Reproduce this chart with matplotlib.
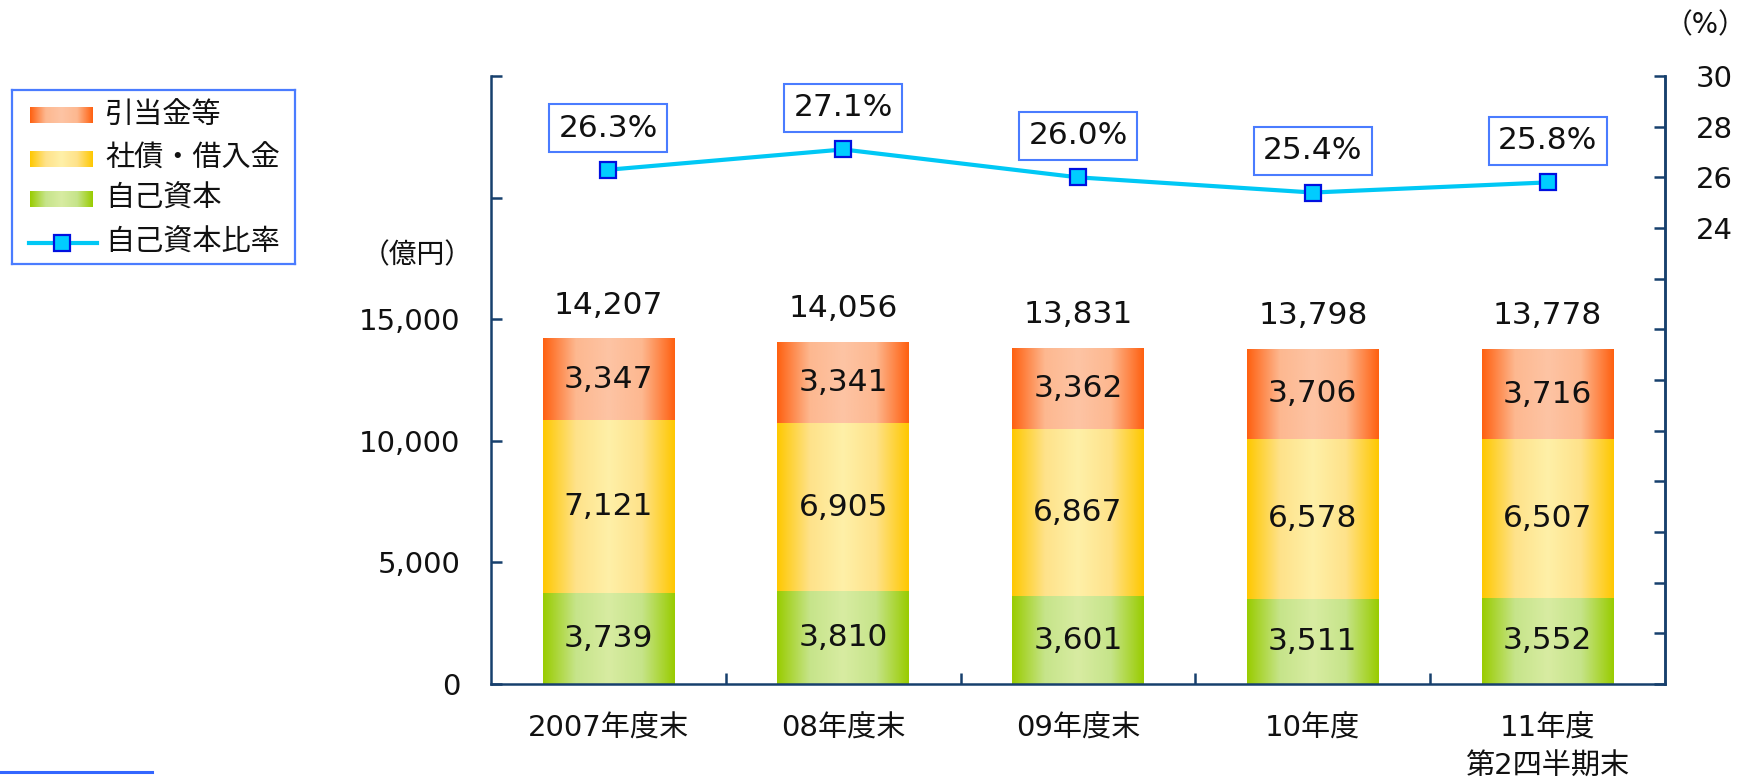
import numpy as np
import matplotlib
matplotlib.use("Agg")
import matplotlib.pyplot as plt
from matplotlib.colors import LinearSegmentedColormap
from matplotlib.lines import Line2D

plt.rcParams['font.family'] = ['DejaVu Sans', 'Noto Sans CJK JP']

categories = ["2007年度末", "08年度末", "09年度末", "10年度", "11年度\n第2四半期末"]
equity = [3739, 3810, 3601, 3511, 3552]
bonds_loans = [7121, 6905, 6867, 6578, 6507]
reserves = [3347, 3341, 3362, 3706, 3716]
totals = [14207, 14056, 13831, 13798, 13778]
equity_ratio = [26.3, 27.1, 26.0, 25.4, 25.8]
series_names = ["引当金等", "社債・借入金", "自己資本", "自己資本比率"]

left_ticks = [0, 5000, 10000, 15000, 20000, 25000]
left_labels = ["0", "5,000", "10,000", "15,000", "", ""]
right_ticks = list(range(6, 31, 2))
right_labels = [str(t) if t >= 24 else "" for t in right_ticks]

AX_COL = "#17406d"
TXT = "#111111"
grad_specs = {
    "reserves": ["#ff6010", "#fdb890", "#fdc4a4", "#fdb890", "#ff6010"],
    "bonds": ["#ffc800", "#fee28a", "#fff0a8", "#fee28a", "#ffc800"],
    "equity": ["#99cc00", "#c6e48a", "#d8eca2", "#c6e48a", "#99cc00"],
}
cmaps = {k: LinearSegmentedColormap.from_list(k, v) for k, v in grad_specs.items()}
grad = np.linspace(0, 1, 256).reshape(1, -1)

fig = plt.figure(figsize=(17.56, 7.80), dpi=100)
ax = fig.add_axes([491/1756, 1-684/780, (1665-491)/1756, (684-76)/780])

x = np.arange(len(categories))
w = 0.56
stack = [("equity", equity), ("bonds", bonds_loans), ("reserves", reserves)]
bottom = np.zeros(len(categories))
for key, vals in stack:
    bars = ax.bar(x, vals, w, bottom=bottom, facecolor="none", edgecolor="none", zorder=2)
    for b, v, bt in zip(bars, vals, bottom):
        x0, y0 = b.get_x(), b.get_y()
        im = ax.imshow(grad, extent=[x0, x0 + b.get_width(), y0, y0 + b.get_height()],
                       aspect="auto", cmap=cmaps[key], zorder=1, interpolation="bilinear")
        im.set_clip_path(b)
        ax.text(b.get_x() + b.get_width()/2, bt + v/2, f"{v:,}", ha="center", va="center",
                fontsize=22.5, color=TXT, zorder=3)
    bottom = bottom + np.array(vals)

for xi, t in zip(x, totals):
    ax.annotate(f"{t:,}", (xi, t), xytext=(0, 24), textcoords="offset points",
                ha="center", va="center", fontsize=22.5, color=TXT)

ax.set_xlim(-0.5, len(categories) - 0.5)
ax.set_ylim(0, 25000)
ax.set_yticks(left_ticks)
ax.set_yticklabels(left_labels)
ax.set_xticks(x)
ax.set_xticklabels(categories, fontsize=21, linespacing=1.45)
ax.set_xticks(np.arange(0.5, len(categories) - 0.5, 1), minor=True)
ax.tick_params(axis="x", which="major", length=0, pad=22, colors=TXT)
ax.tick_params(axis="x", which="minor", length=8, width=1.8, direction="in", color=AX_COL)
ax.tick_params(axis="y", length=8, width=1.8, direction="in", color=AX_COL,
               labelsize=21, labelcolor=TXT, pad=22)
ax.spines["top"].set_visible(False)
for s in ["left", "bottom", "right"]:
    ax.spines[s].set_color(AX_COL)
    ax.spines[s].set_linewidth(1.8)

ax2 = ax.twinx()
ax2.set_ylim(6, 30)
ax2.set_yticks(right_ticks)
ax2.set_yticklabels(right_labels)
ax2.tick_params(axis="y", length=8, width=1.8, direction="in", color=AX_COL,
                labelsize=21, labelcolor=TXT, pad=22)
ax2.spines["top"].set_visible(False)
ax2.spines["right"].set_color(AX_COL)
ax2.spines["right"].set_linewidth(1.8)
ax2.spines["left"].set_visible(False)
ax2.spines["bottom"].set_visible(False)
ax2.plot(x, equity_ratio, color="#00c8f5", lw=3, marker="s", markersize=11,
         markerfacecolor="#00ccff", markeredgecolor="#0010e0", markeredgewidth=1.6, zorder=5)
for xi, r in zip(x, equity_ratio):
    ax2.annotate(f"{r:.1f}%", (xi, r), xytext=(0, 30), textcoords="offset points",
                 ha="center", va="center", fontsize=22.5, color=TXT,
                 bbox=dict(boxstyle="square,pad=0.3", fc="white", ec="#4a7cff", lw=1.5))

fig.text(417/1756, 1-255/780, "（億円）", ha="center", va="center", fontsize=20, color=TXT)
fig.text(1706/1756, 1-25/780, "（%）", ha="center", va="center", fontsize=20, color=TXT)

# legend
lax = fig.add_axes([12/1756, 1-264/780, 283/1756, 174/780])
lax.set_xticks([])
lax.set_yticks([])
for s in lax.spines.values():
    s.set_color("#4a7cff")
    s.set_linewidth(1.6)
rows = [25, 69, 109, 153]
for key, name, ry in zip(["reserves", "bonds", "equity"], series_names[:3], rows[:3]):
    lax.imshow(grad, extent=[18, 81, ry + 8, ry - 8], aspect="auto", cmap=cmaps[key],
               interpolation="bilinear")
    lax.text(93, ry, name, ha="left", va="center", fontsize=21, color=TXT)
lax.plot([17, 85], [rows[3], rows[3]], color="#00c8f5", lw=3)
lax.plot([50], [rows[3]], marker="s", markersize=11, markerfacecolor="#00ccff",
         markeredgecolor="#0010e0", markeredgewidth=1.6)
lax.text(93, rows[3], series_names[3], ha="left", va="center", fontsize=21, color=TXT)
lax.set_xlim(0, 283)
lax.set_ylim(174, 0)

fig.add_artist(Line2D([0, 152/1756], [1-772/780, 1-772/780], color="#3366ff", lw=2.2))

fig.savefig("out.png", dpi=100)
